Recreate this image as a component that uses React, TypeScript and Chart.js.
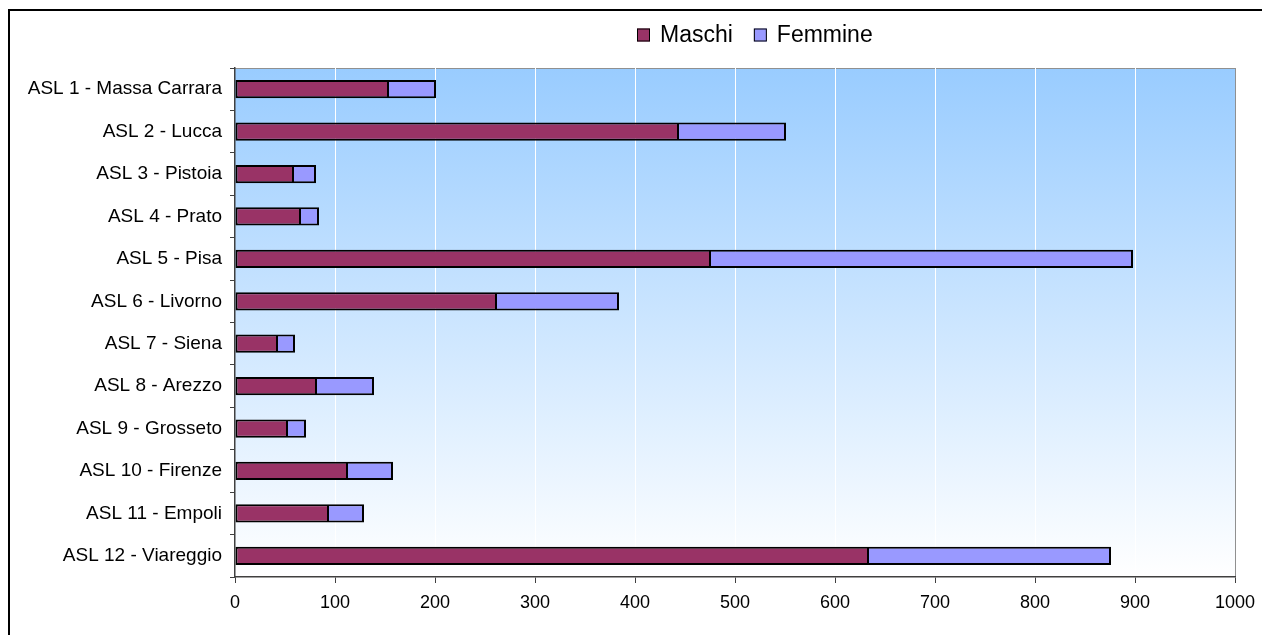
import React, { useEffect, useRef } from "react";
import { Chart, registerables } from "chart.js";

Chart.register(...registerables);

const categories = [
  "ASL 1 - Massa Carrara",
  "ASL 2 - Lucca",
  "ASL 3 - Pistoia",
  "ASL 4 - Prato",
  "ASL 5 - Pisa",
  "ASL 6 - Livorno",
  "ASL 7 - Siena",
  "ASL 8 - Arezzo",
  "ASL 9 - Grosseto",
  "ASL 10 - Firenze",
  "ASL 11 - Empoli",
  "ASL 12 - Viareggio",
];
const maschi = [153, 443, 58, 65, 475, 261, 42, 81, 52, 112, 93, 633];
const femmine = [48, 108, 23, 19, 423, 123, 18, 58, 19, 46, 36, 243];
const seriesNames = ["Maschi", "Femmine"];
const seriesColors = ["#993366", "#9999FF"];

const FONT = "'Liberation Sans', Arial, sans-serif";

const bgPlugin = {
  id: "bgPlugin",
  beforeDraw(chart: any) {
    const { ctx, chartArea } = chart;
    const { left, top, right, bottom } = chartArea;
    const g = ctx.createLinearGradient(0, top, 0, bottom);
    g.addColorStop(0, "#99CCFF");
    g.addColorStop(1, "#FFFFFF");
    ctx.save();
    ctx.fillStyle = g;
    ctx.fillRect(left, top, right - left, bottom - top);
    ctx.strokeStyle = "#909090";
    ctx.lineWidth = 1;
    ctx.beginPath();
    ctx.moveTo(left, Math.round(top) + 0.5);
    ctx.lineTo(Math.round(right) + 0.5, Math.round(top) + 0.5);
    ctx.lineTo(Math.round(right) + 0.5, bottom);
    ctx.stroke();
    ctx.restore();
  },
};

const legendPlugin = {
  id: "customLegend",
  afterDraw(chart: any) {
    const { ctx } = chart;
    ctx.save();
    ctx.font = `23px ${FONT}`;
    ctx.textBaseline = "middle";
    let x = 637;
    const cy = 35;
    seriesNames.forEach((name, i) => {
      ctx.fillStyle = seriesColors[i];
      ctx.fillRect(x, cy - 6.5, 13, 13);
      ctx.strokeStyle = "#000";
      ctx.lineWidth = 1;
      ctx.strokeRect(x + 0.5, cy - 6.5 + 0.5, 12, 12);
      ctx.fillStyle = "#000";
      ctx.fillText(name, x + 23, cy + 1);
      x += 23 + ctx.measureText(name).width + 21;
    });
    ctx.restore();
  },
};

export default function App() {
  const ref = useRef<HTMLCanvasElement>(null);
  useEffect(() => {
    const chart = new Chart(ref.current!, {
      type: "bar",
      data: {
        labels: categories,
        datasets: [
          {
            label: seriesNames[0],
            data: maschi,
            backgroundColor: seriesColors[0],
            borderColor: "#000",
            borderWidth: { top: 2, bottom: 2, left: 2, right: 1 },
            borderSkipped: false,
            barPercentage: 0.86,
            categoryPercentage: 0.5,
          },
          {
            label: seriesNames[1],
            data: femmine,
            backgroundColor: seriesColors[1],
            borderColor: "#000",
            borderWidth: { top: 2, bottom: 2, left: 1, right: 2 },
            borderSkipped: false,
            barPercentage: 0.86,
            categoryPercentage: 0.5,
          },
        ],
      },
      options: {
        indexAxis: "y",
        animation: false,
        responsive: false,
        maintainAspectRatio: false,
        layout: { padding: { top: 68, right: 27, left: 0, bottom: 0 } },
        plugins: {
          legend: { display: false },
          tooltip: { enabled: false },
        },
        scales: {
          x: {
            stacked: true,
            min: 0,
            max: 1000,
            ticks: {
              stepSize: 100,
              color: "#000",
              font: { family: FONT, size: 18 },
              padding: 9,
              callback: (v: any) => String(v),
            },
            grid: {
              color: (c: any) =>
                c.index === 0 ? "rgba(0,0,0,0)" : c.index === 10 ? "#909090" : "#FFFFFF",
              tickColor: "#404040",
              tickLength: 6,
              lineWidth: 1,
            },
            border: { color: "#404040", width: 1.5 },
            afterFit(scale: any) {
              scale.height = 58;
              scale.paddingRight = 0;
              scale.paddingLeft = 0;
            },
          },
          y: {
            stacked: true,
            ticks: {
              color: "#000",
              font: { family: FONT, size: 19 },
              padding: 8,
            },
            grid: {
              drawOnChartArea: false,
              drawTicks: true,
              tickLength: 5,
              tickColor: "#404040",
              offset: true,
            },
            border: { color: "#404040", width: 1.5 },
            afterFit(scale: any) {
              scale.width = 235;
            },
          },
        },
      },
      plugins: [bgPlugin, legendPlugin],
    });
    return () => chart.destroy();
  }, []);

  return (
    <div style={{ position: "fixed", left: 0, top: 0, width: 1262, height: 635, overflow: "hidden", background: "#fff" }}>
      <div
        style={{
          position: "absolute",
          left: 8,
          top: 9,
          width: 1300,
          height: 700,
          borderLeft: "2px solid #000",
          borderTop: "2px solid #000",
        }}
      />
      <canvas
        ref={ref}
        width={1262}
        height={635}
        style={{ position: "absolute", left: 0, top: 0, width: 1262, height: 635 }}
      />
    </div>
  );
}
